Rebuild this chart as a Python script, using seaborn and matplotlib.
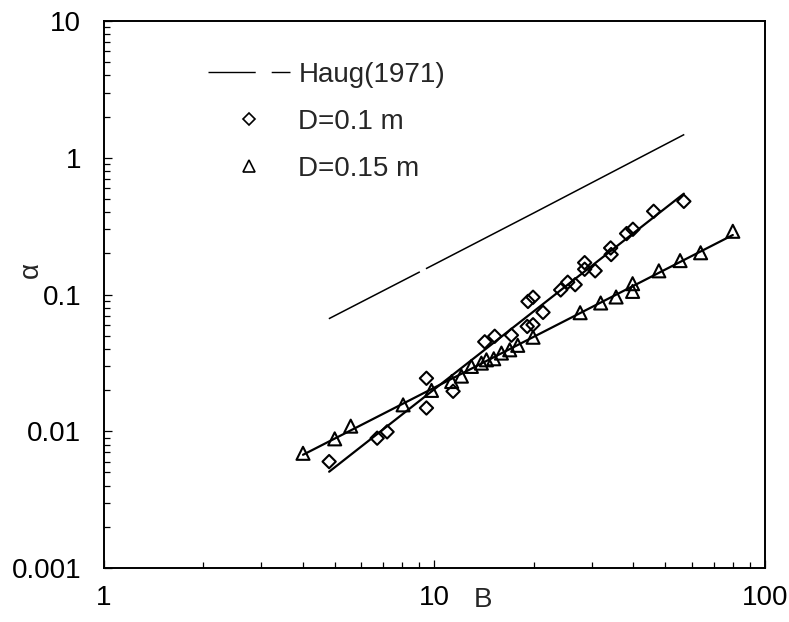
import numpy as np
import matplotlib
matplotlib.use("Agg")
import matplotlib.pyplot as plt
from matplotlib.lines import Line2D
from matplotlib.ticker import FixedLocator, FixedFormatter, LogLocator, NullFormatter
import seaborn as sns

# Haug (1971) correlation
haug_B = [4.8, 10.0, 20.0, 57.0]
haug_alpha = [0.0665, 0.166, 0.395, 1.48]

# Measurements, D = 0.1 m
d10_B = [4.81, 6.72, 7.20, 9.47, 9.47, 11.40, 14.21, 15.23, 17.11, 19.10, 19.89,
         19.20, 19.89, 21.32, 24.11, 25.32, 26.67, 28.49, 28.49, 30.65, 34.14,
         34.26, 38.15, 39.86, 46.05, 56.83]
d10_alpha = [0.0060, 0.0089, 0.0099, 0.0244, 0.0148, 0.0196, 0.0451, 0.0495, 0.0504,
             0.0584, 0.0601, 0.089, 0.0955, 0.074, 0.108, 0.123, 0.118, 0.171, 0.153,
             0.149, 0.219, 0.196, 0.279, 0.300, 0.406, 0.480]

# Measurements, D = 0.15 m
d15_B = [4.01, 5.00, 5.59, 8.05, 9.81, 11.29, 12.08, 12.95, 13.88, 14.38, 15.13,
         15.96, 16.91, 17.88, 19.89, 27.61, 31.85, 35.46, 39.78, 39.78, 47.75,
         55.36, 63.86, 79.92]
d15_alpha = [0.0069, 0.0088, 0.0109, 0.0156, 0.0199, 0.0231, 0.0253, 0.0298, 0.0315,
             0.0333, 0.0339, 0.0373, 0.0394, 0.0425, 0.0487, 0.0736, 0.0867, 0.0959,
             0.120, 0.1054, 0.149, 0.177, 0.202, 0.290]

x_ticks = [1, 10, 100]
x_labels = ["1", "10", "100"]
y_ticks = [0.001, 0.01, 0.1, 1, 10]
y_labels = ["0.001", "0.01", "0.1", "1", "10"]

legend_labels = ["Haug(1971)", "D=0.1 m", "D=0.15 m"]

sns.set_style("ticks")
plt.rcParams["font.family"] = ["Liberation Sans", "DejaVu Sans"]
FS = 20

fig = plt.figure(figsize=(7.89, 6.22), dpi=100)
ax = fig.add_axes([0.1312, 0.0868, 0.8384, 0.8794])
ax.set_xscale("log")
ax.set_yscale("log")


def power_fit(B, a):
    """Least-squares power-law trend through a data set, over its B range."""
    lb, la = np.log10(B), np.log10(a)
    k, c = np.polyfit(lb, la, 1)
    bx = np.array([min(B), max(B)])
    return bx, 10 ** (c + k * np.log10(bx))


# Haug correlation, drawn as a long dash with a short break
sns.lineplot(x=haug_B, y=haug_alpha, ax=ax, color="black", lw=1.1,
             linestyle=(0, (67, 4.5, 300, 5)), estimator=None, sort=False)

# Power-law trend lines through each data set
for B, a in ((d10_B, d10_alpha), (d15_B, d15_alpha)):
    fx, fy = power_fit(B, a)
    sns.lineplot(x=fx, y=fy, ax=ax, color="black", lw=1.6, estimator=None, sort=False)

sns.scatterplot(x=d10_B, y=d10_alpha, ax=ax, marker="D", s=46,
                facecolors="none", edgecolor="black", linewidth=1.5, zorder=3)
sns.scatterplot(x=d15_B, y=d15_alpha, ax=ax, marker="^", s=88,
                facecolors="none", edgecolor="black", linewidth=1.5, zorder=3)

ax.set_xlim(1, 100)
ax.set_ylim(0.001, 10)

ax.xaxis.set_major_locator(FixedLocator(x_ticks))
ax.xaxis.set_major_formatter(FixedFormatter(x_labels))
ax.yaxis.set_major_locator(FixedLocator(y_ticks))
ax.yaxis.set_major_formatter(FixedFormatter(y_labels))
ax.xaxis.set_minor_locator(LogLocator(base=10, subs=np.arange(2, 10)))
ax.yaxis.set_minor_locator(LogLocator(base=10, subs=np.arange(2, 10)))
ax.xaxis.set_minor_formatter(NullFormatter())
ax.yaxis.set_minor_formatter(NullFormatter())

ax.tick_params(which="both", direction="in", top=False, right=False, width=0.9,
               labelsize=FS, colors="black")
ax.tick_params(which="major", length=6)
ax.tick_params(which="minor", length=4.5)
ax.tick_params(axis="y", which="major", pad=16)
ax.tick_params(axis="x", which="major", pad=12)
for sp in ax.spines.values():
    sp.set_linewidth(1.4)
    sp.set_color("black")

ax.set_xlabel("B", fontsize=FS)
ax.xaxis.set_label_coords(0.574, -0.035)
ax.set_ylabel("α", fontsize=FS)
ax.yaxis.set_label_coords(-0.09, 0.545)

handles = [
    Line2D([], [], color="black", lw=1.0, linestyle=(0, (34, 11.5, 14, 20))),
    Line2D([], [], color="black", lw=0, marker="D", markersize=6,
           markerfacecolor="none", markeredgewidth=1.2),
    Line2D([], [], color="black", lw=0, marker="^", markersize=8,
           markerfacecolor="none", markeredgewidth=1.2),
]
ax.legend(handles, legend_labels, loc="upper left", bbox_to_anchor=(0.158, 0.926),
          frameon=False, fontsize=FS, handlelength=2.95, handletextpad=0.3,
          labelspacing=0.76, borderpad=0, borderaxespad=0)

fig.savefig("out.png", dpi=100)
